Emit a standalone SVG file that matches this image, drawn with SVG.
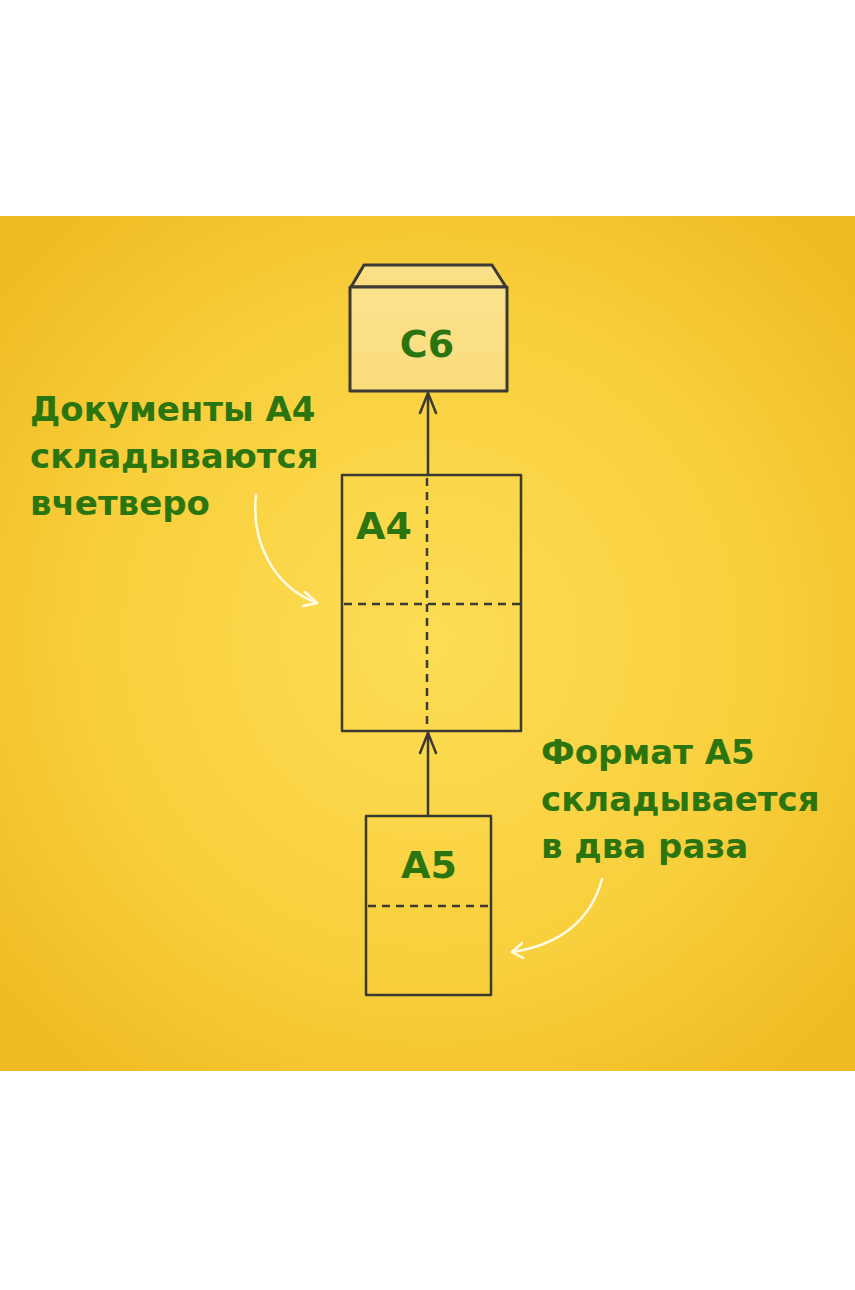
<svg xmlns="http://www.w3.org/2000/svg" width="855" height="1290" viewBox="0 0 855 1290">
<defs>
<radialGradient id="bg" cx="430" cy="640" r="560" gradientUnits="userSpaceOnUse">
<stop offset="0" stop-color="#fddd55"/>
<stop offset="0.6" stop-color="#f8cf3c"/>
<stop offset="1" stop-color="#f0bb22"/>
</radialGradient>
<linearGradient id="env" x1="0" y1="0" x2="0" y2="1">
<stop offset="0" stop-color="#fbe28e"/>
<stop offset="1" stop-color="#fadc7c"/>
</linearGradient>
</defs>
<style>
.ln{fill:none;stroke:#3b3a33;stroke-width:2.5;stroke-linejoin:round;stroke-linecap:round}
.env{fill:url(#env);stroke:#3b3a33;stroke-width:3;stroke-linejoin:round}
.ds{fill:none;stroke:#3b3a33;stroke-width:2.5;stroke-dasharray:8 6}
.lbl{font-family:"DejaVu Sans","Noto Sans",sans-serif;font-weight:bold;fill:#2b7510}
.wh{fill:none;stroke:#fffbe8;stroke-width:2.5;stroke-linecap:round;stroke-linejoin:round}
</style>
<rect width="855" height="1290" fill="#ffffff"/>
<rect x="0" y="216" width="855" height="855" fill="url(#bg)"/>
<g id="connectors">
<line class="ln" x1="428" y1="475" x2="428" y2="393"/>
<polyline class="ln" points="420,413 428,393 436,413"/>
<line class="ln" x1="428" y1="815" x2="428" y2="733"/>
<polyline class="ln" points="420,753 428,733 436,753"/>
<path class="wh" d="M256,495 C251,540 272,586 317,603"/>
<polyline class="wh" points="305,592 317,603 303,606"/>
<path class="wh" d="M602,879 C591,920 560,945 512,952"/>
<polyline class="wh" points="522,943 512,952 523,958"/>
</g>
<g id="c6">
<polygon class="env" points="351,287 364,265 492,265 506,287"/>
<rect class="env" x="350" y="287" width="157" height="104"/>
<text class="lbl" x="427" y="357" font-size="38" text-anchor="middle">C6</text>
</g>
<g id="a4">
<rect class="ln" x="342" y="475" width="179" height="256"/>
<line class="ds" x1="427" y1="478" x2="427" y2="731"/>
<line class="ds" x1="344" y1="604" x2="521" y2="604"/>
<text class="lbl" x="356" y="539" font-size="38">A4</text>
</g>
<g id="a5">
<rect class="ln" x="366" y="816" width="125" height="179"/>
<line class="ds" x1="368" y1="906" x2="491" y2="906"/>
<text class="lbl" x="429" y="878" font-size="38" text-anchor="middle">A5</text>
</g>
<g id="label-a4">
<text class="lbl" font-size="34"><tspan x="30" y="421">Документы А4</tspan><tspan x="30" y="468">складываются</tspan><tspan x="30" y="515">вчетверо</tspan></text>
</g>
<g id="label-a5">
<text class="lbl" font-size="34"><tspan x="541" y="764">Формат А5</tspan><tspan x="541" y="811">складывается</tspan><tspan x="541" y="858">в два раза</tspan></text>
</g>
</svg>
